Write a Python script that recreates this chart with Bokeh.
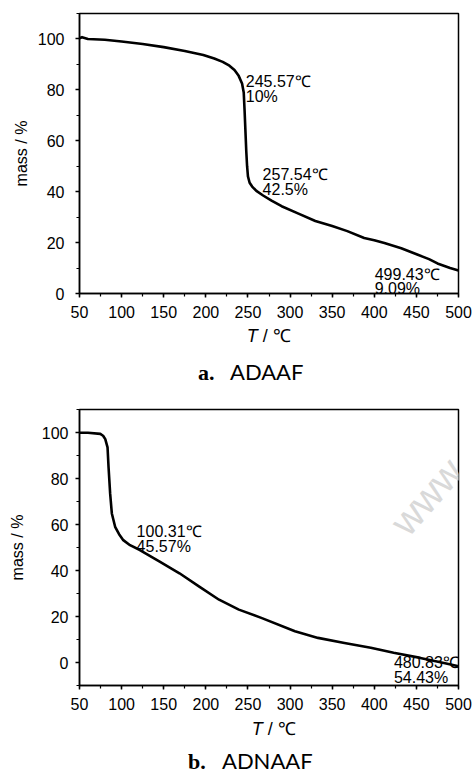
from bokeh.plotting import figure
from bokeh.models import Range1d, Label, SingleIntervalTicker, Div
from bokeh.layouts import column
from bokeh.embed import file_html
from bokeh.resources import INLINE

# ---- data: ADAAF (a) ----
temp_a = [50, 53, 60, 80, 100, 125, 150, 175, 197, 210, 220, 228, 234, 239, 243,
          245, 246, 247, 248, 249, 250, 252, 255, 260, 268, 278, 290, 310, 330,
          350, 368, 388, 400, 412, 432, 451, 465, 475, 490, 500]
mass_a = [100.3, 100.7, 100.0, 99.7, 99.0, 98.0, 96.8, 95.3, 93.7, 92.3, 91.0,
          89.5, 87.8, 85.5, 82.5, 79.0, 72.0, 64.0, 56.0, 50.0, 46.0, 43.5, 42.0,
          40.3, 38.5, 36.5, 34.3, 31.4, 28.5, 26.5, 24.5, 21.8, 20.9, 19.8, 17.8,
          15.3, 13.5, 11.8, 10.0, 9.0]

# ---- data: ADNAAF (b) ----
temp_b = [50, 60, 74.7, 78, 80.6, 83.3, 84.5, 86.4, 88.4, 92.3, 97, 102, 110,
          121.7, 145.2, 168.7, 192.2, 215.7, 239.2, 266.6, 305.8, 333.2, 364.6,
          395.8, 423, 454.6, 480, 500]
mass_b = [99.9, 99.9, 99.4, 98.6, 97.1, 93.5, 84.9, 73.4, 64.8, 59.0, 55.8, 53.2,
          51.0, 48.9, 43.9, 38.8, 33.0, 27.3, 23.0, 19.3, 13.6, 10.7, 8.5, 6.4,
          4.2, 2.0, 0.0, -1.6]

notes_a = [("245.57℃", "10%"), ("257.54℃", "42.5%"), ("499.43℃", "9.09%")]
notes_b = [("100.31℃", "45.57%"), ("480.83℃", "54.43%")]
captions = [("a.", "ADAAF"), ("b.", "ADNAAF")]
x_title = "/ ℃"
y_title = "mass / %"

SANS = "Liberation Sans"
SERIF = "Liberation Serif"
W = 473


def make_fig(ymin, height, bl, br, bt, bb, lstand, axlab_stand):
    p = figure(width=W, height=height, output_backend="svg", toolbar_location=None,
               x_range=Range1d(50, 500), y_range=Range1d(ymin, 110),
               min_border_left=bl, min_border_right=br, min_border_top=bt,
               min_border_bottom=bb)
    p.grid.visible = False
    p.outline_line_color = "black"
    p.outline_line_width = 1.5
    p.outline_line_alpha = 1.0
    p.xaxis.ticker = SingleIntervalTicker(interval=50, num_minor_ticks=2)
    p.yaxis.ticker = SingleIntervalTicker(interval=20, num_minor_ticks=2)
    for ax in (p.xaxis[0], p.yaxis[0]):
        ax.axis_line_width = 1.5
        ax.axis_line_color = "black"
        ax.major_tick_line_color = "black"
        ax.minor_tick_line_color = "black"
        ax.major_tick_line_width = 1.5
        ax.minor_tick_line_width = 1.2
        ax.major_tick_out = 4
        ax.major_tick_in = 0
        ax.minor_tick_out = 3
        ax.minor_tick_in = 0
        ax.major_label_text_font = SANS
        ax.major_label_text_font_size = "16px"
        ax.major_label_text_color = "black"
    p.xaxis.major_label_standoff = 8
    p.yaxis.major_label_standoff = lstand
    p.yaxis.axis_label = y_title
    p.yaxis.axis_label_text_font = SANS
    p.yaxis.axis_label_text_font_size = "16px"
    p.yaxis.axis_label_text_font_style = "normal"
    p.yaxis.axis_label_text_color = "black"
    p.yaxis.axis_label_standoff = axlab_stand
    return p


def add_text(p, x, y, text, size="16px", color="black", angle=0):
    p.add_layout(Label(x=x, y=y, text=text, text_font=SANS, text_font_size=size,
                       text_color=color, text_baseline="alphabetic",
                       text_align="left", angle=angle))


def caption_div(height, t_left, t_top, cap, b_left, b_top, n_left, n_top):
    span = "position:absolute;white-space:nowrap;"
    html = (
        f'<div style="position:relative;width:{W}px;height:{height}px;overflow:hidden;">'
        f'<span style="{span}left:{t_left}px;top:{t_top}px;font-family:{SANS};'
        f'font-size:18px;line-height:18px;color:black;"><i>T</i> {x_title}</span>'
        f'<span style="{span}left:{b_left}px;top:{b_top}px;font-family:{SERIF};'
        f'font-weight:bold;font-size:22px;line-height:22px;color:black;">{cap[0]}</span>'
        f'<span style="{span}left:{n_left}px;top:{n_top}px;font-family:Lato;'
        f'font-size:22px;line-height:22px;color:black;">{cap[1]}</span>'
        '</div>'
    )
    return Div(text=html, width=W, height=height, margin=(0, 0, 0, 0))


# ---------- figure a ----------
pa = make_fig(0, 322, 75, 15, 13, 29, 11, 5)
pa.line(temp_a, mass_a, line_width=2.6, color="black", line_join="round")
pos_a = [(247.4, 83.2, 77.3), (267.4, 46.9, 40.8), (400.5, 7.4, 1.8)]
for (t1, t2), (x, y1, y2) in zip(notes_a, pos_a):
    add_text(pa, x, y1, t1)
    add_text(pa, x, y2, t2)
div_a = caption_div(68, 246.7, 4.5, captions[0], 198, 39.6, 230, 38.5)

# ---------- figure b ----------
pb = make_fig(-10, 326, 79, 11, 19, 31, 7, 13)
pb.line(temp_b, mass_b, line_width=2.6, color="black", line_join="round")
pos_b = [(117.8, 56.8, 50.3), (423.3, -0.1, -6.6)]
for (t1, t2), (x, y1, y2) in zip(notes_b, pos_b):
    add_text(pb, x, y1, t1)
    add_text(pb, x, y2, t2)
add_text(pb, 428.0, 58.0, "www", size="40px", color="#d9d9d9", angle=0.85)
div_b = caption_div(57, 251.7, 3.8, captions[1], 188, 34.6, 222, 33.5)

layout = column(pa, div_a, pb, div_b, spacing=0)
open("out.html", "w").write(file_html(layout, INLINE))
